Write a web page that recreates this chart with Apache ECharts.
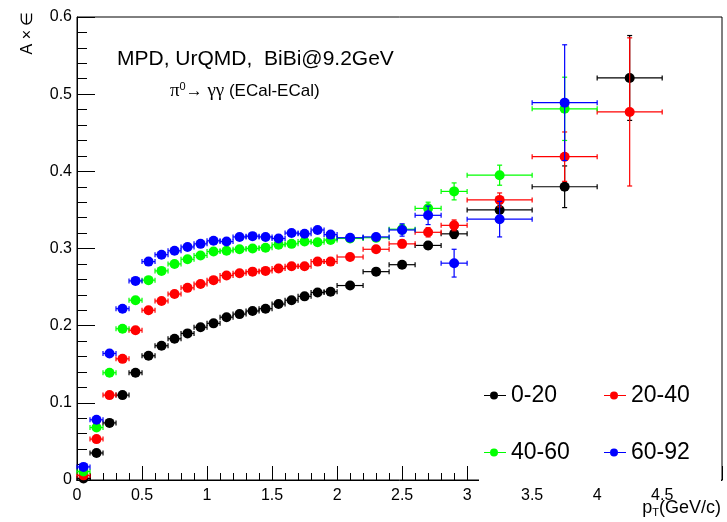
<!DOCTYPE html>
<html>
<head>
<meta charset="utf-8">
<script src="https://cdn.jsdelivr.net/npm/echarts@6/dist/echarts.min.js"></script>
<style>
html,body{margin:0;padding:0;background:#fff;}
#chart{width:727px;height:522px;}
</style>
</head>
<body>
<div id="chart"></div>
<script>
// ---- data ----
const ptCenters = [0.05,0.15,0.25,0.35,0.45,0.55,0.65,0.75,0.85,0.95,
  1.05,1.15,1.25,1.35,1.45,1.55,1.65,1.75,1.85,1.95,
  2.1,2.3,2.5,2.7,2.9,3.25,3.75,4.25];
const ptHalfWidths = [0.05,0.05,0.05,0.05,0.05,0.05,0.05,0.05,0.05,0.05,
  0.05,0.05,0.05,0.05,0.05,0.05,0.05,0.05,0.05,0.05,
  0.1,0.1,0.1,0.1,0.1,0.25,0.25,0.25];

const seriesNames = ['0-20','20-40','40-60','60-92'];
const seriesColors = ['#000000','#ff0000','#00ff00','#0000ff'];

const eff0_20 = [0.002,0.035,0.074,0.110,0.139,0.161,0.174,0.183,0.190,0.198,
  0.203,0.211,0.215,0.219,0.222,0.228,0.233,0.238,0.243,0.244,
  0.252,0.270,0.279,0.304,0.319,0.350,0.380,0.521];
const err0_20 = [0.001,0.002,0.002,0.002,0.002,0.002,0.002,0.002,0.002,0.002,
  0.002,0.002,0.002,0.002,0.002,0.002,0.002,0.002,0.002,0.002,
  0.003,0.004,0.004,0.005,0.006,0.008,0.027,0.055];

const eff20_40 = [0.006,0.053,0.110,0.157,0.194,0.220,0.232,0.241,0.249,0.254,
  0.259,0.265,0.268,0.270,0.271,0.274,0.277,0.277,0.283,0.283,
  0.289,0.299,0.306,0.321,0.330,0.363,0.419,0.477];
const err20_40 = [0.001,0.002,0.002,0.002,0.002,0.002,0.002,0.002,0.002,0.002,
  0.002,0.002,0.002,0.002,0.002,0.002,0.002,0.002,0.002,0.002,
  0.003,0.004,0.005,0.006,0.007,0.009,0.032,0.096];

const eff40_60 = [0.011,0.068,0.139,0.196,0.233,0.259,0.271,0.280,0.286,0.291,
  0.296,0.297,0.299,0.300,0.301,0.305,0.306,0.309,0.308,0.311,
  0.313,0.314,0.325,0.352,0.374,0.395,0.481,null];
const err40_60 = [0.001,0.002,0.002,0.002,0.002,0.002,0.002,0.002,0.002,0.002,
  0.002,0.002,0.002,0.002,0.002,0.002,0.002,0.002,0.002,0.002,
  0.004,0.005,0.006,0.008,0.011,0.013,0.041,null];

const eff60_92 = [0.017,0.078,0.164,0.222,0.258,0.283,0.292,0.297,0.302,0.306,
  0.310,0.309,0.315,0.316,0.315,0.313,0.320,0.319,0.324,0.318,
  0.314,0.315,0.324,0.343,0.281,0.338,0.489,null];
const err60_92 = [0.001,0.002,0.002,0.002,0.002,0.002,0.002,0.002,0.002,0.002,
  0.002,0.002,0.002,0.002,0.002,0.002,0.002,0.002,0.002,0.002,
  0.004,0.004,0.008,0.012,0.018,0.023,0.075,null];

const effValues = [eff0_20, eff20_40, eff40_60, eff60_92];
const errValues = [err0_20, err20_40, err40_60, err60_92];

const xTickLabels = ['0','0.5','1','1.5','2','2.5','3','3.5','4','4.5'];
const yTickLabels = ['0','0.1','0.2','0.3','0.4','0.5','0.6'];

// ---- chart ----
const FONT = 'Liberation Sans, Arial, Helvetica, sans-serif';
const chart = echarts.init(document.getElementById('chart'), null, {renderer:'canvas'});

function makeErrRender(color){
  return function(params, api){
    const x = api.value(0), y = api.value(1), ex = api.value(2), ey = api.value(3);
    const c = api.coord([x, y]);
    const l = api.coord([x - ex, y]);
    const r = api.coord([x + ex, y]);
    const t = api.coord([x, y + ey]);
    const b = api.coord([x, y - ey]);
    const cap = 2.5;
    const st = {stroke: color, lineWidth: 1.2};
    return {type:'group', children:[
      {type:'line', shape:{x1:l[0], y1:c[1], x2:r[0], y2:c[1]}, style:st},
      {type:'line', shape:{x1:l[0], y1:c[1]-cap, x2:l[0], y2:c[1]+cap}, style:st},
      {type:'line', shape:{x1:r[0], y1:c[1]-cap, x2:r[0], y2:c[1]+cap}, style:st},
      {type:'line', shape:{x1:c[0], y1:t[1], x2:c[0], y2:b[1]}, style:st},
      {type:'line', shape:{x1:c[0]-cap, y1:t[1], x2:c[0]+cap, y2:t[1]}, style:st},
      {type:'line', shape:{x1:c[0]-cap, y1:b[1], x2:c[0]+cap, y2:b[1]}, style:st}
    ]};
  };
}

const series = [];
seriesNames.forEach(function(name, k){
  const vals = effValues[k], errs = errValues[k];
  const errData = [], ptData = [];
  ptCenters.forEach(function(x, i){
    if (vals[i] === null) return;
    errData.push([x, vals[i], ptHalfWidths[i], errs[i]]);
    ptData.push([x, vals[i]]);
  });
  series.push({
    name: name + ' err', type:'custom', renderItem: makeErrRender(seriesColors[k]),
    data: errData, encode:{x:0, y:1}, z: 2 + 2*k, silent:true, clip:false
  });
  series.push({
    name: name, type:'scatter', data: ptData, symbol:'circle', symbolSize: 10,
    itemStyle:{color: seriesColors[k], opacity:1}, z: 3 + 2*k, silent:true
  });
});

const legendIcon = 'path://M0,3.5 L6,3.5 L6,4.5 L0,4.5 Z M14,3.5 L22,3.5 L22,4.5 L14,4.5 Z M14,4 A4,4 0 1,1 6,4 A4,4 0 1,1 14,4 Z';
function makeLegend(name, left, top){
  return {
    data:[name], left:left, top:top, icon: legendIcon, itemWidth:22, itemHeight:8,
    padding:0, itemGap:0, selectedMode:false, z:200,
    textStyle:{fontSize:23, color:'#000', fontFamily: FONT}
  };
}

const option = {
  backgroundColor:'#fff',
  animation:false,
  grid:{left:77, right:5, top:17, bottom:42, show:true, borderColor:'#000', borderWidth:1, backgroundColor:'transparent'},
  xAxis:{
    type:'value', min:0, max:4.96, interval:0.5,
    axisLine:{show:true, lineStyle:{color:'#000', width:1}},
    axisTick:{show:true, inside:true, length:14, lineStyle:{color:'#000', width:1}},
    minorTick:{show:true, splitNumber:5, length:7, lineStyle:{color:'#000', width:1}},
    splitLine:{show:false},
    axisLabel:{color:'#000', fontSize:16, fontFamily:FONT, margin:8,
      formatter:function(v){
        const idx = Math.round(v/0.5);
        if (Math.abs(v - idx*0.5) > 1e-6) return '';
        return xTickLabels[idx] !== undefined ? xTickLabels[idx] : '';
      }}
  },
  yAxis:{
    type:'value', min:0, max:0.6, interval:0.1,
    axisLine:{show:true, lineStyle:{color:'#000', width:1}},
    axisTick:{show:true, inside:true, length:18, lineStyle:{color:'#000', width:1}},
    minorTick:{show:true, splitNumber:5, length:10, lineStyle:{color:'#000', width:1}},
    splitLine:{show:false},
    axisLabel:{color:'#000', fontSize:16, fontFamily:FONT, margin:5,
      formatter:function(v){
        const idx = Math.round(v/0.1);
        if (Math.abs(v - idx*0.1) > 1e-6) return '';
        return yTickLabels[idx] !== undefined ? yTickLabels[idx] : '';
      }}
  },
  legend:[
    makeLegend('0-20', 484, 384),
    makeLegend('20-40', 604, 384),
    makeLegend('40-60', 484, 441),
    makeLegend('60-92', 604, 441)
  ],
  graphic:[
    {type:'rect', z:100, shape:{x:479, y:350, width:242, height:133}, style:{fill:'#fff'}},
    {type:'text', z:110, x:117, y:59, style:{text:'MPD, UrQMD,  BiBi@9.2GeV', fontSize:21, fontFamily:FONT, fill:'#000', align:'left', verticalAlign:'middle'}},
    {type:'text', z:110, x:170, y:91, style:{
      text:'{g|π}{sup|0}{a|→ }{g|γγ}{a| (ECal-ECal)}',
      fill:'#000', align:'left', verticalAlign:'middle',
      rich:{
        g:{fontSize:19, fontFamily:'Liberation Serif, DejaVu Serif, serif', fill:'#000'},
        sup:{fontSize:11, fontFamily:FONT, fill:'#000', verticalAlign:'top', padding:[0,0,8,0]},
        a:{fontSize:17, fontFamily:FONT, fill:'#000'}
      }}},
    {type:'text', z:110, x:28, y:33, rotation:Math.PI/2, style:{text:'A × ∈', fontSize:16, fontFamily:FONT, fill:'#000', align:'center', verticalAlign:'middle'}},
    {type:'text', z:110, x:721, y:508, style:{
      text:'{a|p}{s|T}{a|(GeV/c)}', fill:'#000', align:'right', verticalAlign:'middle',
      rich:{
        a:{fontSize:18, fontFamily:FONT, fill:'#000'},
        s:{fontSize:11, fontFamily:FONT, fill:'#000', padding:[10,0,0,0]}
      }}}
  ],
  series: series
};
chart.setOption(option);
</script>
</body>
</html>
